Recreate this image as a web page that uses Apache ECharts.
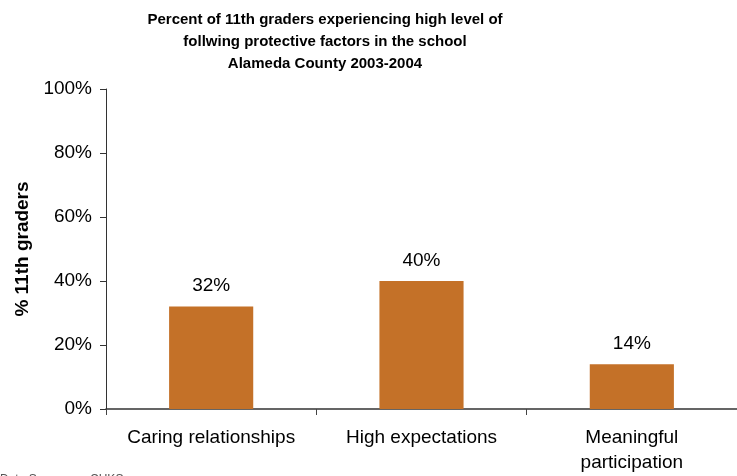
<!DOCTYPE html>
<html>
<head>
<meta charset="utf-8">
<title>Protective factors</title>
<script src="https://cdn.jsdelivr.net/npm/echarts@6/dist/echarts.min.js"></script>
<style>
  html, body { margin: 0; padding: 0; background: #fff; }
</style>
</head>
<body>
<div id="chart" style="width:737px; height:476px;"></div>
<script type="text/javascript">
// data
var categories = ['Caring relationships', 'High expectations', 'Meaningful\nparticipation'];
var percents = [32, 40, 14];
var yTicks = [0, 20, 40, 60, 80, 100];

var chart = echarts.init(document.getElementById('chart'));

var option = {
    animation: false,
    backgroundColor: '#ffffff',
    textStyle: { fontFamily: 'Liberation Sans, Arial, sans-serif' },
    title: {
        text: 'Percent of 11th graders experiencing high level of\nfollwing protective factors in the school\nAlameda County 2003-2004',
        left: 320,
        top: 4,
        textAlign: 'center',
        textStyle: {
            fontSize: 15,
            fontWeight: 'bold',
            color: '#000',
            lineHeight: 22,
            fontFamily: 'Liberation Sans, Arial, sans-serif'
        }
    },
    grid: { left: 106, top: 89, width: 634, height: 320, containLabel: false },
    xAxis: {
        type: 'category',
        data: categories,
        axisLine: { lineStyle: { color: '#333', width: 1.5 } },
        axisTick: { show: true, alignWithLabel: false, length: 6, lineStyle: { color: '#444' } },
        axisLabel: { color: '#000', fontSize: 19, margin: 16, interval: 0, lineHeight: 25 }
    },
    yAxis: {
        type: 'value',
        min: yTicks[0],
        max: yTicks[yTicks.length - 1],
        interval: 20,
        name: '% 11th graders',
        nameLocation: 'middle',
        nameGap: 72,
        nameRotate: 90,
        nameTextStyle: { fontSize: 19, fontWeight: 'bold', color: '#000' },
        axisLine: { show: true, lineStyle: { color: '#333', width: 1 } },
        axisTick: { show: true, length: 6, lineStyle: { color: '#333' } },
        splitLine: { show: false },
        axisLabel: { color: '#000', fontSize: 19, margin: 14, formatter: '{value}%' }
    },
    series: [{
        type: 'bar',
        data: percents,
        barWidth: '40%',
        itemStyle: { color: '#C47128' },
        label: {
            show: true,
            position: 'top',
            distance: 11,
            fontSize: 19,
            color: '#000',
            formatter: '{c}%'
        }
    }],
    graphic: [{
        type: 'text',
        left: 0,
        top: 474,
        style: { text: 'Data Source:      CHKS', fontSize: 12, fill: '#555' }
    }]
};

chart.setOption(option);
</script>
</body>
</html>
